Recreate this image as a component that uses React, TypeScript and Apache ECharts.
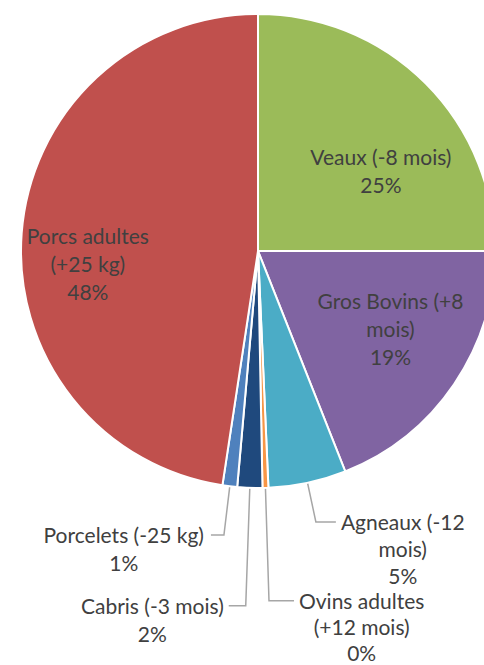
import React, { useEffect, useRef } from "react";
import * as echarts from "echarts";

const categories = [
  "Veaux (-8 mois)",
  "Gros Bovins (+8 mois)",
  "Agneaux (-12 mois)",
  "Ovins adultes (+12 mois)",
  "Cabris (-3 mois)",
  "Porcelets (-25 kg)",
  "Porcs adultes (+25 kg)",
];
const labelLines = [
  ["Veaux (-8 mois)"],
  ["Gros Bovins (+8", "mois)"],
  ["Agneaux (-12", "mois)"],
  ["Ovins adultes", "(+12 mois)"],
  ["Cabris (-3 mois)"],
  ["Porcelets (-25 kg)"],
  ["Porcs adultes", "(+25 kg)"],
];
const values = [25, 19, 5.3, 0.4, 1.7, 1.0, 47.6];
const colors = ["#9BBB59", "#8064A2", "#4BACC6", "#F79646", "#1F497D", "#4F81BD", "#C0504D"];

export default function App() {
  const ref = useRef<HTMLDivElement>(null);
  useEffect(() => {
    if (!ref.current) return;
    const chart = echarts.init(ref.current, null, { renderer: "svg" });
    const insideOffsets: Record<number, [number, number]> = {
      0: [37, 5],
      1: [32, 9],
      6: [-49, 22],
    };
    const outsideCfg: Record<number, { length: number; length2: number; dist: number; lh: number }> = {
      2: { length: 40, length2: 20, dist: 5, lh: 27 },
      3: { length: 113, length2: 25, dist: 5, lh: 26 },
      4: { length: 118, length2: 17, dist: 5, lh: 28 },
      5: { length: 49, length2: 13, dist: 7, lh: 28 },
    };
    const FS = 21;
    const LH = 28;
    const textStyle = {
      color: "#404040",
      fontFamily: "Lato",
      fontSize: FS,
      lineHeight: LH,
      align: "center",
    };
    const data = categories.map((name, i) => {
      const out = outsideCfg[i];
      const nLines = labelLines[i].length + 1;
      const item: any = {
        name,
        value: values[i],
        itemStyle: { color: colors[i] },
      };
      if (out) {
        item.label = {
          position: "outside",
          distanceToLabelLine: out.dist,
          lineHeight: out.lh,
          rich: { t: { ...textStyle, lineHeight: out.lh } },
          padding: [(nLines - 1) * out.lh, 0, 0, 0],
        };
        item.labelLine = {
          show: true,
          length: out.length,
          length2: out.length2,
          lineStyle: { color: "#A6A6A6", width: 1.5 },
        };
      } else {
        item.label = { position: "inside" };
        item.labelLine = { show: false };
      }
      return item;
    });
    chart.setOption({
      animation: false,
      backgroundColor: "#ffffff",
      series: [
        {
          type: "pie",
          center: [258, 251],
          radius: [0, 237],
          startAngle: 90,
          clockwise: true,
          avoidLabelOverlap: false,
          percentPrecision: 0,
          itemStyle: { borderColor: "#ffffff", borderWidth: 2 },
          label: {
            show: true,
            formatter: (p: any) =>
              [...labelLines[p.dataIndex], p.percent + "%"].map((l) => `{t|${l}}`).join("\n"),
            rich: { t: textStyle },
            color: "#404040",
            fontFamily: "Lato",
            fontSize: FS,
            lineHeight: LH,
          },
          labelLayout: (p: any) => {
            const o = insideOffsets[p.dataIndex];
            return o ? { dx: o[0], dy: o[1] } : {};
          },
          emphasis: { disabled: true },
          data,
        },
      ],
    });
    return () => chart.dispose();
  }, []);
  return (
    <div
      ref={ref}
      style={{ position: "fixed", left: 0, top: 0, width: 484, height: 665, background: "#fff" }}
    />
  );
}
